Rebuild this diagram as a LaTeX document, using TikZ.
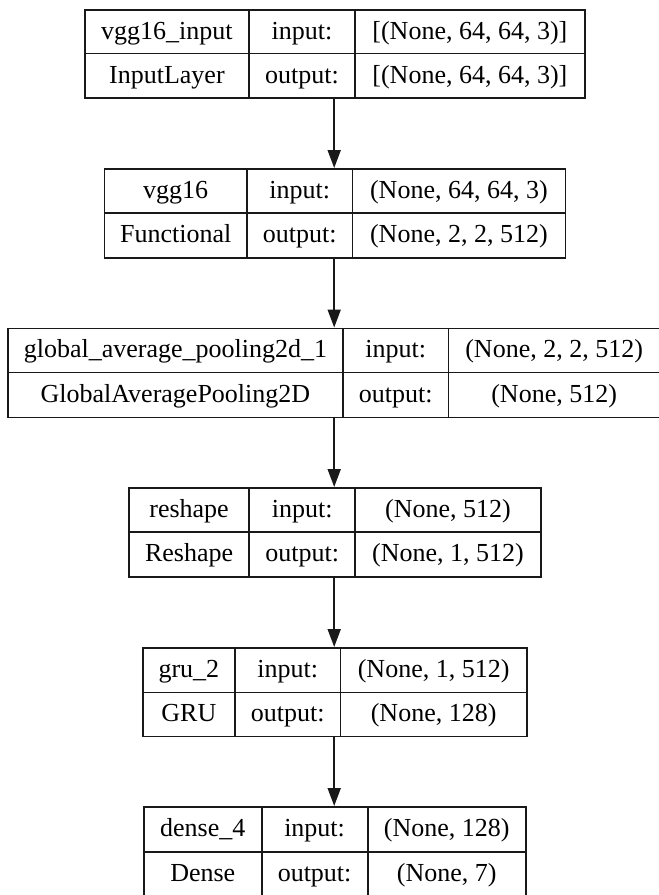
\documentclass[tikz,border=0pt]{standalone}
\usepackage{fontspec}
\setmainfont{Liberation Serif}
\usetikzlibrary{arrows.meta}
\tikzset{
  cell/.style={draw=black!90, line width=1.8pt, inner sep=0pt, rectangle},
  outerbox/.style={draw=none, inner sep=0pt, rectangle},
  lbl/.style={inner sep=0pt, text height=20pt, text depth=5pt, font=\fontsize{26}{30}\selectfont},
  arr/.style={draw=black!90, line width=1.8pt, -{Triangle[length=18pt,width=13pt]}}
}
\newcommand\layerbox[8]{%
  \pgfmathsetmacro\lbWa{#3-#2}\pgfmathsetmacro\lbWb{#4-#3}\pgfmathsetmacro\lbWc{#5-#4}%
  \pgfmathsetmacro\lbHa{#7-#6}\pgfmathsetmacro\lbHb{#8-#7}%
  \pgfmathsetmacro\lbWt{#5-#2}\pgfmathsetmacro\lbHt{#8-#6}%
  \node[outerbox, minimum width=\lbWt pt, minimum height=\lbHt pt, anchor=north west] (#1) at (#2pt,-#6pt) {};
  \node[cell, minimum width=\lbWa pt, minimum height=\lbHa pt, anchor=north west] (#1-11) at (#2pt,-#6pt) {};
  \node[cell, minimum width=\lbWb pt, minimum height=\lbHa pt, anchor=north west] (#1-12) at (#3pt,-#6pt) {};
  \node[cell, minimum width=\lbWc pt, minimum height=\lbHa pt, anchor=north west] (#1-13) at (#4pt,-#6pt) {};
  \node[cell, minimum width=\lbWa pt, minimum height=\lbHb pt, anchor=north west] (#1-21) at (#2pt,-#7pt) {};
  \node[cell, minimum width=\lbWb pt, minimum height=\lbHb pt, anchor=north west] (#1-22) at (#3pt,-#7pt) {};
  \node[cell, minimum width=\lbWc pt, minimum height=\lbHb pt, anchor=north west] (#1-23) at (#4pt,-#7pt) {};
}
\begin{document}
\begin{tikzpicture}
\useasboundingbox (0,0) rectangle (659pt,-895pt);
\fill[white] (0,0) rectangle (659pt,-895pt);

\layerbox{L1}{84}{248}{354}{584}{9}{52.5}{97}
\layerbox{L2}{103.5}{246}{351.5}{564.5}{168}{212}{257}
\layerbox{L3}{7}{342}{447.5}{661}{327.5}{371.5}{416.5}
\layerbox{L4}{128}{248.3}{354.3}{540}{487}{531}{576}
\layerbox{L5}{142}{234}{339.5}{526}{647}{691.5}{735.5}
\layerbox{L6}{143}{260.7}{366.7}{525}{806}{850.7}{896}

\node[lbl] (t1a) at (L1-11) {vgg16\_input};
\node[lbl] (t1b) at (L1-12) {input:};
\node[lbl] (t1c) at (L1-13) {[(None, 64, 64, 3)]};
\node[lbl] (t1d) at (L1-21) {InputLayer};
\node[lbl] (t1e) at (L1-22) {output:};
\node[lbl] (t1f) at (L1-23) {[(None, 64, 64, 3)]};

\node[lbl] (t2a) at (L2-11) {vgg16};
\node[lbl] (t2b) at (L2-12) {input:};
\node[lbl] (t2c) at (L2-13) {(None, 64, 64, 3)};
\node[lbl] (t2d) at (L2-21) {Functional};
\node[lbl] (t2e) at (L2-22) {output:};
\node[lbl] (t2f) at (L2-23) {(None, 2, 2, 512)};

\node[lbl] (t3a) at (L3-11) {global\_average\_pooling2d\_1};
\node[lbl] (t3b) at (L3-12) {input:};
\node[lbl] (t3c) at ([xshift=-1pt]L3-13) {(None, 2, 2, 512)};
\node[lbl] (t3d) at (L3-21) {GlobalAveragePooling2D};
\node[lbl] (t3e) at (L3-22) {output:};
\node[lbl] (t3f) at ([xshift=-1pt]L3-23) {(None, 512)};

\node[lbl] (t4a) at (L4-11) {reshape};
\node[lbl] (t4b) at (L4-12) {input:};
\node[lbl] (t4c) at (L4-13) {(None, 512)};
\node[lbl] (t4d) at (L4-21) {Reshape};
\node[lbl] (t4e) at (L4-22) {output:};
\node[lbl] (t4f) at (L4-23) {(None, 1, 512)};

\node[lbl] (t5a) at (L5-11) {gru\_2};
\node[lbl] (t5b) at (L5-12) {input:};
\node[lbl] (t5c) at (L5-13) {(None, 1, 512)};
\node[lbl] (t5d) at (L5-21) {GRU};
\node[lbl] (t5e) at (L5-22) {output:};
\node[lbl] (t5f) at (L5-23) {(None, 128)};

\node[lbl] (t6a) at (L6-11) {dense\_4};
\node[lbl] (t6b) at (L6-12) {input:};
\node[lbl] (t6c) at (L6-13) {(None, 128)};
\node[lbl] (t6d) at (L6-21) {Dense};
\node[lbl] (t6e) at (L6-22) {output:};
\node[lbl] (t6f) at (L6-23) {(None, 7)};

\draw[arr] (L1.south) -- (L1.south |- L2.north);
\draw[arr] (L2.south) -- (L2.south |- L3.north);
\draw[arr] (L3.south) -- (L3.south |- L4.north);
\draw[arr] (L4.south) -- (L4.south |- L5.north);
\draw[arr] (L5.south) -- (L5.south |- L6.north);
\end{tikzpicture}
\end{document}
